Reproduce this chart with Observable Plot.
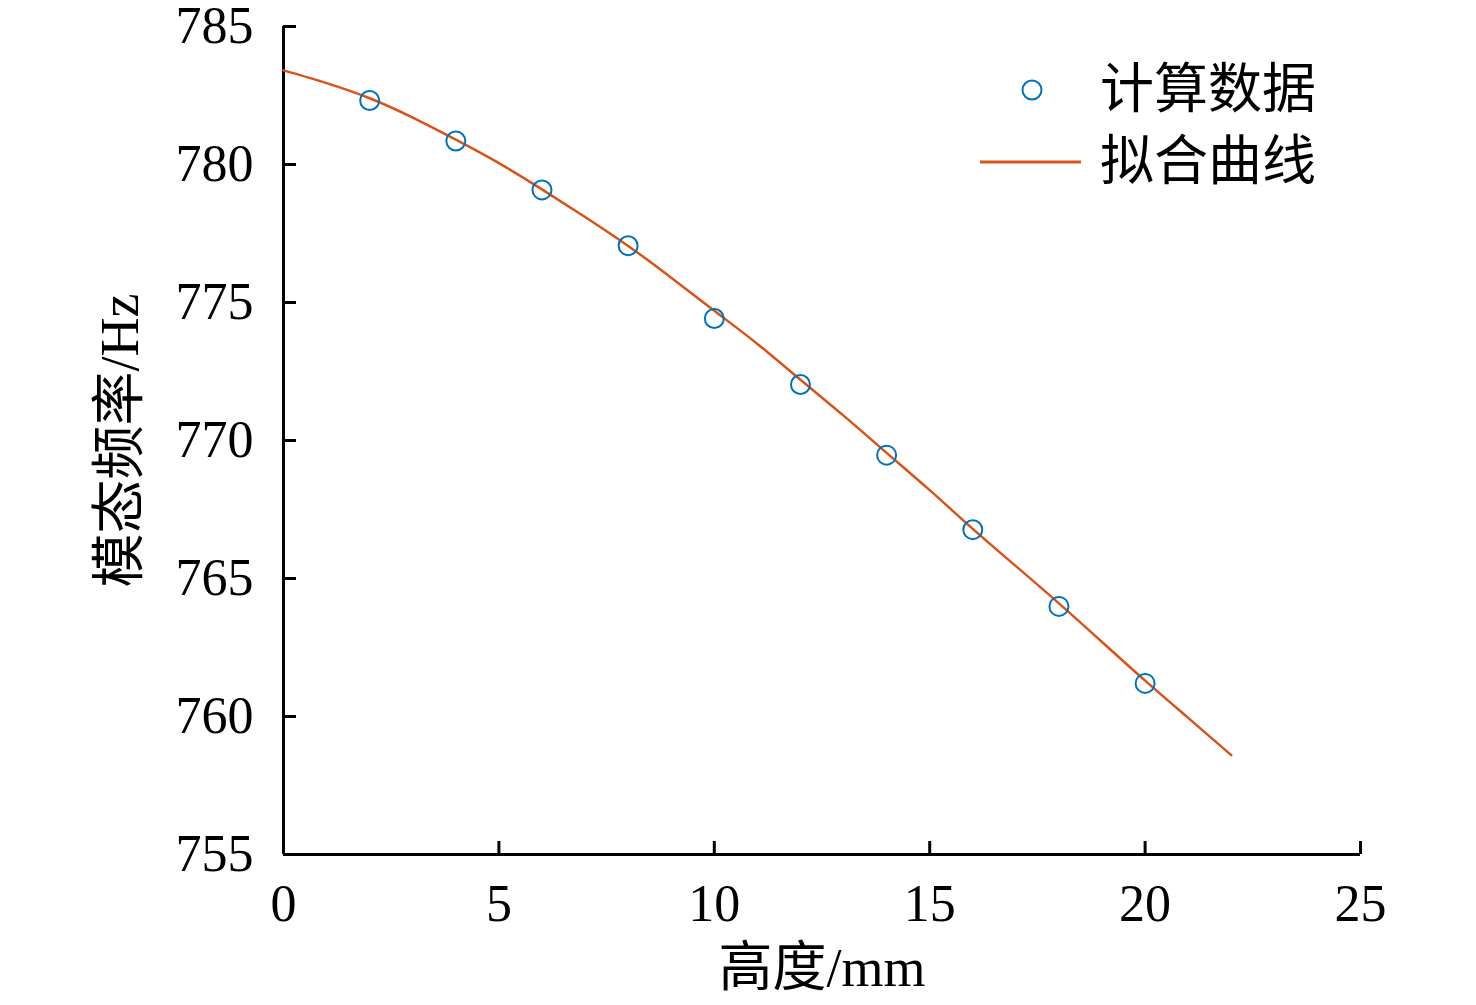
<!DOCTYPE html>
<html>
<head>
<meta charset="utf-8">
<script src="https://cdn.jsdelivr.net/npm/d3@7"></script>
<script src="https://cdn.jsdelivr.net/npm/@observablehq/plot@0.6"></script>
<style>
  body { margin: 0; background: #fff; }
  #chart { position: relative; width: 1476px; height: 1005px; }
  #legend {
    position: absolute; left: 975px; top: 54px;
    font-family: "Liberation Serif", "Noto Sans CJK SC", serif;
    font-size: 54px; line-height: 72px; color: #000;
  }
  #legend .row { display: flex; align-items: center; height: 72px; }
  #legend svg { width: 110px; height: 72px; margin-right: 15px; }
</style>
</head>
<body>
<div id="chart"><div id="legend"></div></div>
<script>
// 计算数据
var heights = [2, 4, 6, 8, 10, 12, 14, 16, 18, 20]
var freqs = [782.32, 780.85, 779.08, 777.06, 774.42, 772.03, 769.47, 766.77, 763.99, 761.20]

// 拟合曲线
var fitX = [0, 1, 2, 3, 4, 5, 6, 7, 8, 9, 10, 11, 12, 13, 14, 15, 16, 17, 18, 19, 20, 21, 22]
var fitY = [783.41, 782.95, 782.4, 781.7, 780.9, 780.05, 779.1, 778.1, 777.05, 775.9, 774.7,
            773.5, 772.2, 770.9, 769.55, 768.2, 766.8, 765.45, 764.1, 762.7, 761.3, 759.95, 758.6]

var xTicks = [0, 5, 10, 15, 20, 25]
var yTicks = [755, 760, 765, 770, 775, 780, 785]
var legendNames = ["计算数据", "拟合曲线"]
var xLabel = "高度/mm"
var yLabel = "模态频率/Hz"

var blue = "#0072BD"
var orange = "#D95319"

var points = heights.map((h, i) => ({h: h, f: freqs[i]}))
var fit = fitX.map((h, i) => ({h: h, f: fitY[i]}))

var chart = Plot.plot({
  width: 1476,
  height: 1005,
  marginLeft: 283,
  marginRight: 116,
  marginTop: 26,
  marginBottom: 151,
  x: {domain: [0, 25]},
  y: {domain: [755, 785]},
  style: {
    fontFamily: "'Liberation Serif', 'Noto Sans CJK SC', serif",
    fontSize: 52,
    color: "#000",
    background: "#fff",
    overflow: "visible"
  },
  marks: [
    // inward ticks
    Plot.axisX(xTicks, {tickSize: -13, strokeWidth: 3, tickFormat: () => "", label: null}),
    Plot.axisY(yTicks, {tickSize: -13, strokeWidth: 3, tickFormat: () => "", label: null}),
    // tick labels
    Plot.axisX(xTicks, {tickSize: 0, tickPadding: 30, fontSize: 52, label: null}),
    Plot.axisY(yTicks, {tickSize: 0, tickPadding: 30, fontSize: 52, label: null}),
    Plot.ruleX([0], {strokeWidth: 3}),
    Plot.ruleY([755], {strokeWidth: 3}),
    Plot.line(fit, {x: "h", y: "f", stroke: orange, strokeWidth: 2.5, curve: "natural"}),
    Plot.dot(points, {x: "h", y: "f", r: 9.5, stroke: blue, strokeWidth: 2, fill: "none"}),
    Plot.text([xLabel], {frameAnchor: "bottom", dy: 131, fontSize: 54, textAnchor: "middle", text: d => d}),
    Plot.text([yLabel], {frameAnchor: "left", dx: -163, rotate: -90, fontSize: 54, textAnchor: "middle", text: d => d})
  ]
})
d3.select("#chart").insert(() => chart, "#legend")

// legend
var legend = d3.select("#legend")
var row1 = legend.append("div").attr("class", "row")
row1.append("svg").append("circle")
  .attr("cx", 57).attr("cy", 36).attr("r", 9.5)
  .attr("fill", "none").attr("stroke", blue).attr("stroke-width", 2)
row1.append("span").text(legendNames[0])
var row2 = legend.append("div").attr("class", "row")
row2.append("svg").append("line")
  .attr("x1", 5).attr("x2", 106).attr("y1", 36).attr("y2", 36)
  .attr("stroke", orange).attr("stroke-width", 3)
row2.append("span").text(legendNames[1])
</script>
</body>
</html>
